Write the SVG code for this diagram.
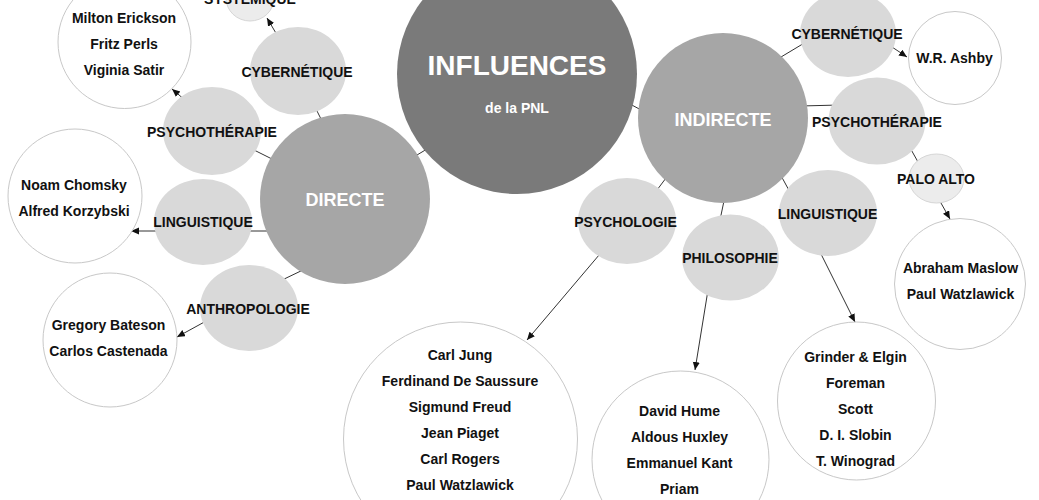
<svg xmlns="http://www.w3.org/2000/svg" width="1039" height="500" viewBox="0 0 1039 500">
<style>
text{font-family:"Liberation Sans",Arial,Helvetica,sans-serif;font-weight:bold;text-anchor:middle}
.lbl{font-size:14px;fill:#111}
.big{fill:#ffffff}
.c0{fill:#7a7a7a}
.c1{fill:#a6a6a6}
.c2{fill:#d9d9d9}
.c3{fill:#ececec;stroke:#d6d6d6;stroke-width:1}
.w{fill:#ffffff;stroke:#c8c8c8;stroke-width:1}
.ln{stroke:#333;stroke-width:1;fill:none}
.ar{stroke:#333;stroke-width:1;fill:none;marker-end:url(#ah)}
</style>
<defs>
<marker id="ah" markerUnits="userSpaceOnUse" markerWidth="9" markerHeight="8" refX="8" refY="3.5" orient="auto">
<path d="M0,0 L8,3.5 L0,7 z" fill="#111"/>
</marker>
</defs>
<rect width="1039" height="500" fill="#ffffff"/>
<g id="connectors">
<line class="ln" x1="412" y1="158" x2="432" y2="146"/>
<line class="ln" x1="628" y1="103" x2="645" y2="112"/>
<line class="ln" x1="314" y1="105" x2="324" y2="125"/>
<line class="ln" x1="252" y1="149" x2="276" y2="161"/>
<line class="ln" x1="246" y1="231" x2="272" y2="231"/>
<line class="ln" x1="280" y1="281" x2="305" y2="269"/>
<line class="ln" x1="776" y1="60" x2="806" y2="42"/>
<line class="ln" x1="800" y1="106" x2="840" y2="105"/>
<line class="ln" x1="909" y1="146" x2="922" y2="169"/>
<line class="ln" x1="779" y1="172" x2="791" y2="194"/>
<line class="ln" x1="654" y1="194" x2="669" y2="174"/>
<line class="ln" x1="725" y1="196" x2="720" y2="220"/>
<line class="ar" x1="283" y1="45" x2="267" y2="18"/>
<line class="ar" x1="192" y1="106" x2="172" y2="89"/>
<line class="ar" x1="160" y1="231" x2="131" y2="231"/>
<line class="ar" x1="208" y1="320" x2="177" y2="337"/>
<line class="ar" x1="886" y1="43" x2="907" y2="57"/>
<line class="ar" x1="937" y1="196" x2="950" y2="219"/>
<line class="ar" x1="605" y1="248" x2="527" y2="340"/>
<line class="ar" x1="708" y1="290" x2="695" y2="370"/>
<line class="ar" x1="819" y1="250" x2="855" y2="322"/>
</g>
<g id="influences">
<circle class="c0" cx="517" cy="74" r="120"/>
<text class="big" x="517" y="75" font-size="28">INFLUENCES</text>
<text class="big" x="517" y="113" font-size="14">de la PNL</text>
</g>
<g id="directe">
<circle class="c1" cx="345" cy="199" r="85"/>
<text class="big" x="345" y="206" font-size="18">DIRECTE</text>
</g>
<g id="indirecte">
<circle class="c1" cx="723" cy="118" r="85"/>
<text class="big" x="723" y="126" font-size="18">INDIRECTE</text>
</g>
<g id="systemique">
<ellipse class="c3" cx="250" cy="-2" rx="24" ry="23"/>
<text class="lbl" x="250" y="4">SYSTÉMIQUE</text>
</g>
<g id="cyber-d">
<ellipse class="c2" cx="298" cy="71" rx="48" ry="44"/>
<text class="lbl" x="297" y="77">CYBERNÉTIQUE</text>
</g>
<g id="psycho-d">
<ellipse class="c2" cx="212" cy="131" rx="49" ry="44"/>
<text class="lbl" x="212" y="137">PSYCHOTHÉRAPIE</text>
</g>
<g id="ling-d">
<ellipse class="c2" cx="203" cy="222" rx="49" ry="43"/>
<text class="lbl" x="203" y="227">LINGUISTIQUE</text>
</g>
<g id="anthro-d">
<ellipse class="c2" cx="249" cy="308" rx="49" ry="43"/>
<text class="lbl" x="248" y="314">ANTHROPOLOGIE</text>
</g>
<g id="milton">
<circle class="w" cx="124.5" cy="42" r="66.5"/>
<text class="lbl" x="124" y="23">Milton Erickson</text>
<text class="lbl" x="124" y="49">Fritz Perls</text>
<text class="lbl" x="124" y="75">Viginia Satir</text>
</g>
<g id="noam">
<circle class="w" cx="75" cy="196" r="67"/>
<text class="lbl" x="74" y="190">Noam Chomsky</text>
<text class="lbl" x="74" y="216">Alfred Korzybski</text>
</g>
<g id="gregory">
<circle class="w" cx="110" cy="340" r="67"/>
<text class="lbl" x="108.5" y="330">Gregory Bateson</text>
<text class="lbl" x="108.5" y="356">Carlos Castenada</text>
</g>
<g id="cyber-i">
<ellipse class="c2" cx="848" cy="34" rx="48" ry="43"/>
<text class="lbl" x="847" y="39">CYBERNÉTIQUE</text>
</g>
<g id="ashby">
<circle class="w" cx="955" cy="58" r="46.5"/>
<text class="lbl" x="954.5" y="63">W.R. Ashby</text>
</g>
<g id="psycho-i">
<ellipse class="c2" cx="877" cy="121" rx="48.5" ry="43.5"/>
<text class="lbl" x="877" y="127">PSYCHOTHÉRAPIE</text>
</g>
<g id="paloalto">
<ellipse class="c3" cx="936.5" cy="178.5" rx="27.5" ry="24.5"/>
<text class="lbl" x="936" y="184">PALO ALTO</text>
</g>
<g id="maslow">
<circle class="w" cx="960" cy="284" r="65.5"/>
<text class="lbl" x="960.5" y="273">Abraham Maslow</text>
<text class="lbl" x="960.5" y="299">Paul Watzlawick</text>
</g>
<g id="ling-i">
<ellipse class="c2" cx="828" cy="213" rx="49" ry="43"/>
<text class="lbl" x="827.5" y="219">LINGUISTIQUE</text>
</g>
<g id="psychologie">
<ellipse class="c2" cx="627" cy="221" rx="49" ry="43"/>
<text class="lbl" x="625.5" y="227">PSYCHOLOGIE</text>
</g>
<g id="philosophie">
<ellipse class="c2" cx="730.5" cy="257.5" rx="48.5" ry="43"/>
<text class="lbl" x="730" y="263">PHILOSOPHIE</text>
</g>
<g id="psychologie-list">
<circle class="w" cx="460.5" cy="439" r="117"/>
<text class="lbl" x="460" y="360">Carl Jung</text>
<text class="lbl" x="460" y="386">Ferdinand De Saussure</text>
<text class="lbl" x="460" y="412">Sigmund Freud</text>
<text class="lbl" x="460" y="438">Jean Piaget</text>
<text class="lbl" x="460" y="464">Carl Rogers</text>
<text class="lbl" x="460" y="490">Paul Watzlawick</text>
</g>
<g id="philosophie-list">
<circle class="w" cx="680.5" cy="459.5" r="88.5"/>
<text class="lbl" x="679.5" y="416">David Hume</text>
<text class="lbl" x="679.5" y="442">Aldous Huxley</text>
<text class="lbl" x="679.5" y="468">Emmanuel Kant</text>
<text class="lbl" x="679.5" y="494">Priam</text>
</g>
<g id="linguistique-list">
<circle class="w" cx="856.5" cy="401" r="79"/>
<text class="lbl" x="855.5" y="362">Grinder &amp; Elgin</text>
<text class="lbl" x="855.5" y="388">Foreman</text>
<text class="lbl" x="855.5" y="414">Scott</text>
<text class="lbl" x="855.5" y="440">D. I. Slobin</text>
<text class="lbl" x="855.5" y="466">T. Winograd</text>
</g>
</svg>
